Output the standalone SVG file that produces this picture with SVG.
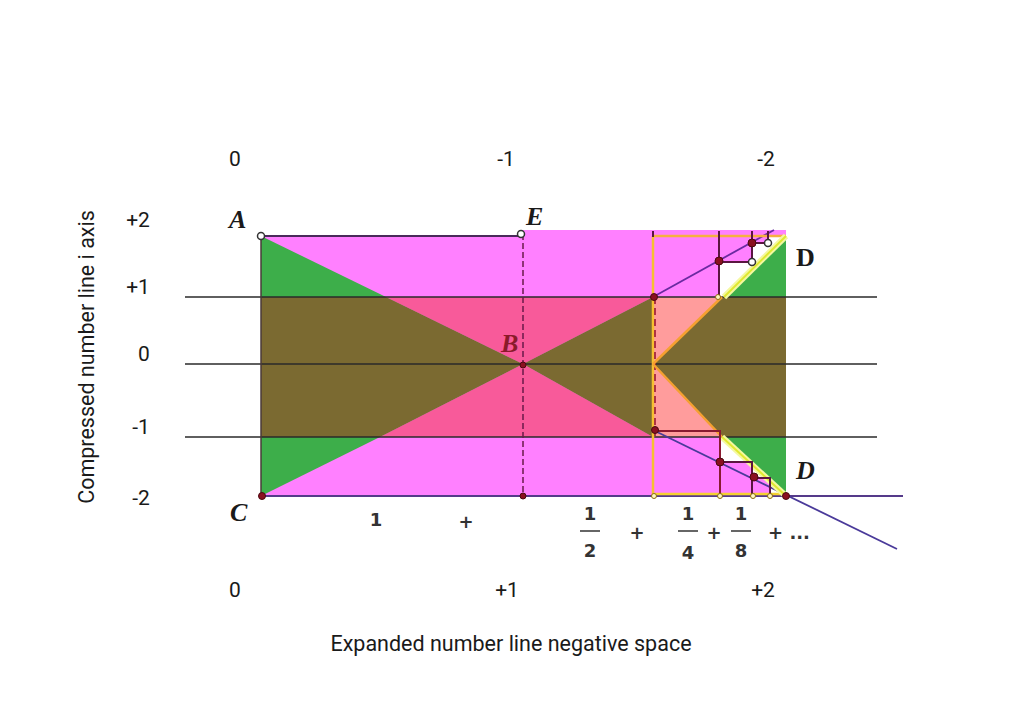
<svg xmlns="http://www.w3.org/2000/svg" width="1024" height="724" viewBox="0 0 1024 724">
<style>
.lbl{font-family:Roboto,"Liberation Sans",sans-serif;font-size:21px;fill:#1a1a1a;text-anchor:middle}
.big{font-size:21.5px}
.pt{font-family:"Liberation Serif","DejaVu Serif",serif;font-size:26px;font-weight:bold;font-style:italic;fill:#1a1a1a}
.fr{font-family:"DejaVu Sans","Liberation Sans",sans-serif;font-size:18px;font-weight:bold;fill:#333;text-anchor:middle}
.hl{stroke:#2a2a2a;stroke-width:1.5;fill:none}
.stair{stroke:#5a1540;stroke-width:2;fill:none}
.dot{fill:#8a1020;stroke:#4a0a10;stroke-width:1}
.odot{fill:#fff;stroke:#333;stroke-width:1.5}
.ydot{fill:#fff8c0;stroke:#8a6a10;stroke-width:1}
</style>
<rect width="1024" height="724" fill="#ffffff"/>
<g id="regions">
  <rect x="261" y="236" width="262" height="260" fill="#ff80ff"/>
  <rect x="523" y="230" width="263" height="266" fill="#ff80ff"/>
  <polygon points="261,236 386,297 261,297" fill="#3dae4a"/>
  <polygon points="261,437 380,437 261,496" fill="#3dae4a"/>
  <polygon points="386,297 653,297 523,364" fill="#f85a9a"/>
  <polygon points="380,437 653,437 523,364" fill="#f85a9a"/>
  <polygon points="261,297 386,297 523,364 380,437 261,437" fill="#7b6a31"/>
  <polygon points="523,364 653,297 786,297 786,437 653,437" fill="#7b6a31"/>
  <polygon points="653,297 722,297 653,364" fill="#ff9c9c"/>
  <polygon points="653,364 722,437 653,437" fill="#ff9c9c"/>
  <polygon points="725,297 786,236 786,297" fill="#3dae4a"/>
  <polygon points="722,437 786,437 786,496" fill="#3dae4a"/>
  <polygon points="719,297 719,262 752,262 752,243 768,243 768,236 784,236 725,297" fill="#ffffff"/>
  <polygon points="720,437 720,462 752,462 752,478 770,478 770,495 786,496 722,437" fill="#ffffff"/>
</g>
<g id="connectors">
  <line x1="185" y1="297" x2="877" y2="297" class="hl"/>
  <line x1="185" y1="364" x2="877" y2="364" class="hl"/>
  <line x1="185" y1="437" x2="877" y2="437" class="hl"/>
  <line x1="261" y1="236" x2="523" y2="236" stroke="#4a2a5a" stroke-width="1.8"/>
  <line x1="261" y1="236" x2="261" y2="496" stroke="#4a3a3a" stroke-width="1.5"/>
  <line x1="261" y1="496" x2="903" y2="496" stroke="#553a8a" stroke-width="2"/>
  <line x1="523" y1="234" x2="523" y2="496" stroke="#6a1a4a" stroke-width="1.5" stroke-dasharray="6,3"/>
  <line x1="653" y1="430" x2="897" y2="549" stroke="#4a3a9a" stroke-width="1.8"/>
  <line x1="653" y1="297" x2="774" y2="230" stroke="#6a2aa0" stroke-width="1.8"/>
  <polyline points="653,236 786,236" stroke="#f5b040" stroke-width="2.5" fill="none"/>
  <line x1="653" y1="236" x2="653" y2="496" stroke="#f5c030" stroke-width="2.5"/>
  <line x1="653" y1="494" x2="786" y2="494" stroke="#f5d030" stroke-width="2.5"/>
  <line x1="655" y1="297" x2="655" y2="437" stroke="#9a1a30" stroke-width="1.6" stroke-dasharray="7,4"/>
  <line x1="653" y1="364" x2="722" y2="297" stroke="#f5a030" stroke-width="2.5"/>
  <line x1="653" y1="364" x2="722" y2="437" stroke="#f5a030" stroke-width="2.5"/>
  <line x1="724" y1="297" x2="786" y2="236" stroke="#f4f8a0" stroke-width="6"/>
  <line x1="724" y1="297" x2="786" y2="236" stroke="#e0e830" stroke-width="2"/>
  <line x1="722" y1="437" x2="786" y2="496" stroke="#f4f8a0" stroke-width="6"/>
  <line x1="722" y1="437" x2="786" y2="496" stroke="#e0e830" stroke-width="2"/>
  <polyline points="719,231 719,297" class="stair"/>
  <polyline points="719,262 752,262 752,231" class="stair"/>
  <polyline points="752,243 768,243 768,231" class="stair"/>
  <line x1="653" y1="231" x2="653" y2="237" class="stair"/>
  <polyline points="655,431 720,431 720,496" stroke="#8a1a30" stroke-width="2" fill="none"/>
  <polyline points="720,462 752,462 752,496" class="stair"/>
  <polyline points="754,478 770,478 770,496" class="stair"/>
</g>
<g id="points">
  <circle id="A" cx="261" cy="236" r="3.5" class="odot"/>
  <circle id="E" cx="521" cy="234" r="3.5" class="odot"/>
  <circle id="C" cx="262" cy="496" r="3.5" class="dot"/>
  <circle id="B" cx="523" cy="365" r="3" class="dot"/>
  <circle cx="523" cy="496" r="3" class="dot"/>
  <circle cx="786" cy="496" r="3.5" class="dot"/>
  <circle cx="654" cy="297" r="3.5" class="dot"/>
  <circle cx="655" cy="430" r="3.5" class="dot"/>
  <circle cx="719" cy="261" r="4" class="dot"/>
  <circle cx="752" cy="243" r="4" class="dot"/>
  <circle cx="720" cy="462" r="4" class="dot"/>
  <circle cx="754" cy="477" r="4" class="dot"/>
  <circle cx="752" cy="262" r="3.5" class="odot"/>
  <circle cx="768" cy="243" r="3.5" class="odot"/>
  <circle cx="718" cy="297" r="2.5" class="ydot"/>
  <circle cx="654" cy="496" r="2.5" class="ydot"/>
  <circle cx="720" cy="496" r="2.5" class="ydot"/>
  <circle cx="753" cy="496" r="2.5" class="ydot"/>
  <circle cx="770" cy="496" r="2.5" class="ydot"/>
</g>
<g id="point-labels">
  <text x="229" y="228" class="pt">A</text>
  <text x="526" y="225" class="pt">E</text>
  <text x="501" y="352" class="pt" style="fill:#8a1a2a">B</text>
  <text x="796" y="266" class="pt" style="font-style:normal">D</text>
  <text x="796" y="479" class="pt">D</text>
  <text x="230" y="521" class="pt">C</text>
</g>
<g id="axis-labels">
  <text x="235" y="166" class="lbl">0</text>
  <text x="506" y="166" class="lbl">-1</text>
  <text x="766" y="166" class="lbl">-2</text>
  <text x="138" y="227" class="lbl">+2</text>
  <text x="138" y="294" class="lbl">+1</text>
  <text x="144" y="361" class="lbl">0</text>
  <text x="141" y="434" class="lbl">-1</text>
  <text x="141" y="505" class="lbl">-2</text>
  <text x="235" y="597" class="lbl">0</text>
  <text x="507" y="597" class="lbl">+1</text>
  <text x="763" y="597" class="lbl">+2</text>
  <text x="511" y="651" class="lbl big">Expanded number line negative space</text>
  <text x="0" y="0" class="lbl big" transform="translate(94,357) rotate(-90)">Compressed number line i axis</text>
</g>
<g id="series">
  <text x="376" y="526" class="fr">1</text>
  <text x="466" y="528" class="fr">+</text>
  <text x="590" y="520" class="fr">1</text>
  <line x1="580" y1="531" x2="600" y2="531" stroke="#333" stroke-width="1.5"/>
  <text x="590" y="557" class="fr">2</text>
  <text x="637" y="539" class="fr">+</text>
  <text x="688" y="520" class="fr">1</text>
  <line x1="678" y1="531" x2="698" y2="531" stroke="#333" stroke-width="1.5"/>
  <text x="688" y="559" class="fr">4</text>
  <text x="714" y="539" class="fr">+</text>
  <text x="741" y="520" class="fr">1</text>
  <line x1="731" y1="531" x2="751" y2="531" stroke="#333" stroke-width="1.5"/>
  <text x="741" y="557" class="fr">8</text>
  <text x="789" y="539" class="fr">+ ...</text>
</g>
</svg>
